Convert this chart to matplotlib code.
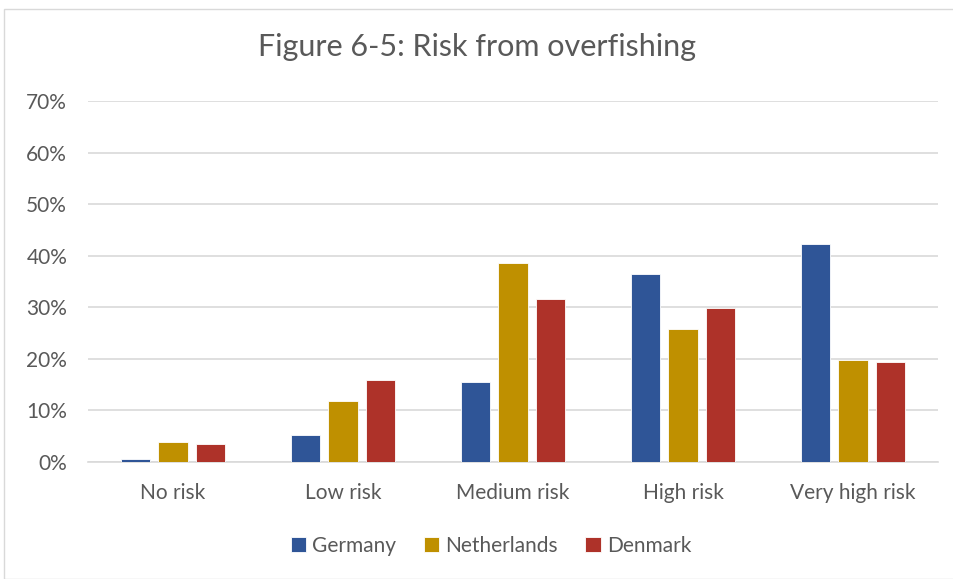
import matplotlib
matplotlib.use("Agg")
import matplotlib.pyplot as plt
import numpy as np
from matplotlib.patches import Rectangle
from matplotlib.ticker import FuncFormatter

categories = ["No risk", "Low risk", "Medium risk", "High risk", "Very high risk"]
series_names = ["Germany", "Netherlands", "Denmark"]
germany = [0.5, 5.2, 15.6, 36.4, 42.2]
netherlands = [3.9, 11.8, 38.6, 25.7, 19.8]
denmark = [3.4, 15.9, 31.6, 29.8, 19.3]
colors = ["#2F5597", "#BF9000", "#AE3229"]
yticks = [0, 10, 20, 30, 40, 50, 60, 70]

plt.rcParams['font.family'] = ['Lato', 'DejaVu Sans']
fig = plt.figure(figsize=(9.54, 5.79), dpi=100)
W, H = 954, 579
ax = fig.add_axes([88 / W, 1 - 462 / H, (938 - 88) / W, (462 - 101) / H])

x = np.arange(len(categories))
bw = 0.172
step = 0.222
for i, (vals, name, c) in enumerate(zip([germany, netherlands, denmark], series_names, colors)):
    ax.bar(x + (i - 1) * step, vals, bw, color=c, label=name,
           edgecolor="white", linewidth=0.6, zorder=3)

ax.set_xlim(-0.5, len(categories) - 0.5)
ax.set_ylim(0, 70)
ax.set_yticks(yticks)
ax.yaxis.set_major_formatter(FuncFormatter(lambda v, p: f"{int(v)}%"))
ax.set_xticks(x)
ax.set_xticklabels(categories)
ax.grid(axis="y", color="#D9D9D9", linewidth=1.2, zorder=0)
for s in ["top", "right", "left"]:
    ax.spines[s].set_visible(False)
ax.spines["bottom"].set_color("#D9D9D9")
ax.spines["bottom"].set_linewidth(1.2)
ax.tick_params(axis="both", length=0, labelsize=15, colors="#595959")
ax.tick_params(axis="y", pad=15)
ax.tick_params(axis="x", pad=15)

fig.text(0.5, 1 - 47 / H, "Figure 6-5: Risk from overfishing", ha="center", va="center",
         fontsize=22, color="#595959")

leg = fig.legend(loc="center", bbox_to_anchor=(0.5 + 14 / W, 1 - 546 / H), ncol=3, frameon=False,
                 fontsize=15, handlelength=0.75, handleheight=0.75, handletextpad=0.3,
                 columnspacing=1.3)
for t in leg.get_texts():
    t.set_color("#595959")

fig.patches.append(Rectangle((4 / W, 0), (W - 4) / W + 0.01, 1 - 9 / H, transform=fig.transFigure,
                             fill=False, edgecolor="#D9D9D9", linewidth=1.0))

fig.savefig("out.png", dpi=100)
